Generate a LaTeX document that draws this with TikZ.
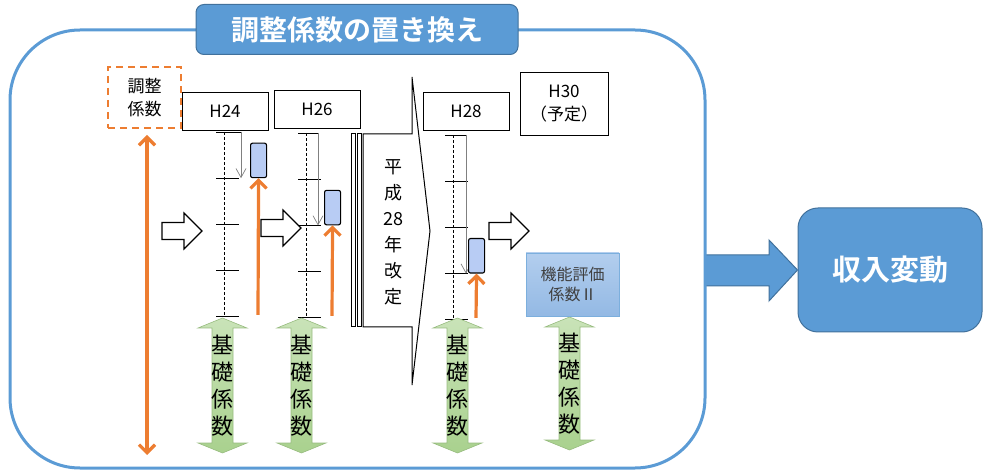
\documentclass[tikz,border=0pt]{standalone}
\usepackage{fontspec}
\setmainfont{Noto Sans CJK JP}[BoldFont={Noto Sans CJK JP Bold}]
\usetikzlibrary{positioning, arrows.meta, calc}

\definecolor{frameblue}{HTML}{5B9BD5}
\definecolor{edgeblue}{HTML}{41719C}
\definecolor{accent}{HTML}{ED7D31}
\definecolor{barblue}{HTML}{B8CCF4}
\definecolor{basegreen}{HTML}{A9D18E}
\definecolor{basegreenlt}{HTML}{C9E3B8}
\definecolor{evalblue}{HTML}{93B9E4}
\definecolor{evalbluelt}{HTML}{B3CEEE}

\begin{document}
\begin{tikzpicture}[x=1pt, y=-1pt,
    yearbox/.style={draw, line width=0.9pt, fill=white, minimum width=86pt, minimum height=38pt,
      font=\fontsize{17}{19}\selectfont, align=center, inner sep=0pt},
    bar/.style={draw, line width=1.1pt, fill=barblue, rounded corners=2pt,
      minimum width=16pt, minimum height=34.5pt, inner sep=0pt},
    tick/.style={line width=0.8pt},
    rise/.style={accent, line width=3.2pt, -{Straight Barb[length=8pt, width=16pt]}},
    drop/.style={gray, line width=0.7pt, -{Straight Barb[length=9pt, width=10pt, line width=0.7pt]}},
    hollow/.style={draw, line width=1.2pt, fill=white},
    basearrow/.style={draw=basegreen!90!black, line width=0.6pt, top color=basegreenlt, bottom color=basegreen},
    basetext/.style={font=\fontsize{22}{27}\selectfont, align=center, inner sep=0pt},
  ]
\useasboundingbox (0,0) rectangle (983,470);

% income change
\node[draw=edgeblue, line width=1pt, fill=frameblue, rounded corners=20pt, minimum width=184pt,
  minimum height=124pt, text=white, font=\bfseries\fontsize{29}{32}\selectfont] (income) at (890,270) {収入変動};
\draw[draw=edgeblue, line width=1pt, fill=frameblue] (705,255) -- (769,255) -- (769,240) -- (income.west)
  -- (769,301) -- (769,286) -- (705,286) -- cycle;

% outer frame and title
\draw[frameblue, line width=3pt, rounded corners=70pt] (10,30) rectangle (705,468);
\node[draw=edgeblue, line width=1pt, fill=frameblue, rounded corners=8pt, minimum width=322pt,
  minimum height=50pt, text=white, font=\bfseries\fontsize{28}{30}\selectfont] (title) at (357,29.5) {調整係数の置き換え};

% adjustment coefficient
\node[draw=accent, line width=2pt, dash pattern=on 7pt off 5pt, minimum width=73pt, minimum height=61pt,
  align=center, font=\fontsize{17}{23}\selectfont, inner sep=0pt] (adj) at (144.5,97.5) {調整\\係数};
\coordinate (adjtop) at (147,135);
\coordinate (adjbot) at (147,455);
\draw[accent, line width=3.2pt, {Straight Barb[length=8pt, width=16pt]}-{Straight Barb[length=8pt, width=16pt]}]
  (adjtop) -- (adjbot);

% year boxes
\node[yearbox] (h24) at (225,111) {H24};
\node[yearbox] (h26) at (317,109) {H26};
\node[yearbox] (h28) at (466,111) {H28};
\node[yearbox, minimum width=88pt, minimum height=63pt, font=\fontsize{17}{23}\selectfont] (h30) at (564,103.5) {H30\\（予定）};

% scales
\foreach \nm/\dx/\ytop/\gx/\bx/\idx in {a/224/132/241/250/1, b/306/133/318/324/2, c/453/135/466/468/3} {
  \pgfmathsetmacro\ybot{\ytop+4*46.2}
  \pgfmathsetmacro\yk{\ytop+\idx*46.2}
  \draw[dashed, dash pattern=on 3pt off 2pt, line width=0.6pt] (\dx,\ytop) -- (\dx,\ybot);
  \foreach \i in {1,...,4}
    \draw[tick] ({\dx-8},{\ytop+\i*46.2}) -- ({\dx+15},{\ytop+\i*46.2});
  \draw[tick] ({\dx-8},\ytop) -- (\gx,\ytop);
  \draw[drop] (\gx,\ytop) -- (\gx,\yk);
  \node[bar, anchor=south west] (bar\nm) at (\bx,\yk) {};
  \coordinate (foot\nm) at ({\bx+8},{\ybot-2});
  \draw[rise] (foot\nm) -- (bar\nm.south);
}

% hollow arrows
\foreach \ax/\ay in {162/231, 261/228, 489/231}
  \draw[hollow, shift={(\ax,\ay)}] (0,-8.5) -- (22,-8.5) -- (22,-18) -- (40,0) -- (22,18) -- (22,8.5) -- (0,8.5) -- cycle;

% revision
\draw[line width=1pt, fill=white] (351,134) rectangle (355.5,327);
\draw[line width=1pt, fill=white] (357.5,134) rectangle (361.5,327);
\draw[line width=1pt, fill=white] (363,134) -- (412,134) -- (412,77) -- (430,231) -- (412,385) -- (412,327)
  -- (363,327) -- cycle;
\node[align=center, font=\fontsize{18}{26}\selectfont, inner sep=0pt] (rev) at (393,232) {平\\成\\28\\年\\改\\定};

% base coefficient
\foreach \nm/\cx/\ya/\yb in {a/222.5/318/453, b/301.5/318/453, c/457.5/318/453, d/569.5/317/450} {
  \draw[basearrow] (\cx,\ya) -- ++(24.5,10) -- ++(-14,0) -- ({\cx+10.5},{\yb-10}) -- ++(14,0) -- (\cx,\yb)
    -- ++(-24.5,-10) -- ++(14,0) -- ({\cx-10.5},{\ya+10}) -- ++(-14,0) -- cycle;
  \node[basetext] (base\nm) at (\cx,{(\ya+\yb)/2}) {基\\礎\\係\\数};
}

% function evaluation coefficient
\node[draw=frameblue!80, line width=0.8pt, top color=evalbluelt, bottom color=evalblue, minimum width=93pt,
  minimum height=63pt, align=center, text=black!75, font=\fontsize{16}{20}\selectfont, inner sep=0pt] (kino)
  at (572.5,284.5) {機能評価\\係数Ⅱ};
\end{tikzpicture}
\end{document}
